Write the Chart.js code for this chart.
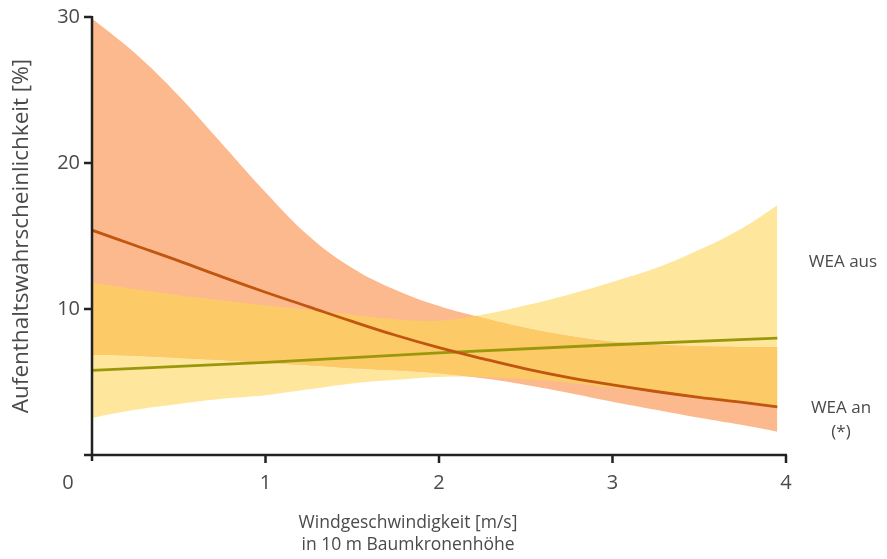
<!DOCTYPE html>
<html>
<head>
<meta charset="utf-8">
<script src="https://cdn.jsdelivr.net/npm/chart.js@4"></script>
<style>
  html, body { margin: 0; padding: 0; background: #fff; }
  #wrap { width: 887px; height: 559px; }
</style>
</head>
<body>
<div id="wrap"><canvas id="chart"></canvas></div>
<script>
// Windgeschwindigkeit [m/s] (x) for the bands
const windSpeed = [0, 0.25, 0.5, 0.75, 1, 1.25, 1.5, 1.75, 2, 2.25, 2.5, 2.75, 3, 3.25, 3.5, 3.75, 3.95];

// WEA an (*) - orange
const anUpper = [29.9, 27.5, 24.6, 21.3, 18.0, 15.0, 12.8, 11.3, 10.2, 9.4, 8.7, 8.15, 7.75, 7.55, 7.45, 7.4, 7.4];
const anMean  = [15.4, 14.35, 13.3, 12.2, 11.15, 10.15, 9.15, 8.2, 7.35, 6.6, 5.9, 5.3, 4.8, 4.35, 3.95, 3.6, 3.3];
const anLower = [6.85, 6.8, 6.65, 6.5, 6.3, 6.15, 5.95, 5.8, 5.6, 5.25, 4.8, 4.25, 3.65, 3.1, 2.55, 2.05, 1.6];

// WEA aus - yellow
const ausUpper = [11.8, 11.35, 10.95, 10.6, 10.25, 9.95, 9.6, 9.3, 9.2, 9.6, 10.25, 11.0, 11.85, 12.8, 14.05, 15.55, 17.1];
const ausLower = [2.55, 3.1, 3.5, 3.85, 4.1, 4.5, 4.9, 5.15, 5.35, 5.35, 5.2, 4.95, 4.6, 4.3, 3.95, 3.7, 3.4];
const ausMeanX = [0, 1, 2, 3, 3.95];
const ausMean  = [5.8, 6.35, 7.0, 7.55, 8.0];

const xTicks = [0, 1, 2, 3, 4];
const yTicks = [0, 10, 20, 30];

const FONT = '"Open Sans", "Noto Sans", sans-serif';
const TEXT = '#4a4a4a';
const AXIS = '#222';

function pts(xs, ys) {
    return xs.map((x, i) => ({ x: x, y: ys[i] }));
}

// trace a curve through point elements (forward or backward)
function trace(ctx, p, reverse) {
    const n = p.length;
    if (!reverse) {
        ctx.lineTo(p[0].x, p[0].y);
        for (let i = 1; i < n; i++) {
            ctx.bezierCurveTo(p[i - 1].cp2x, p[i - 1].cp2y, p[i].cp1x, p[i].cp1y, p[i].x, p[i].y);
        }
    } else {
        ctx.lineTo(p[n - 1].x, p[n - 1].y);
        for (let i = n - 1; i > 0; i--) {
            ctx.bezierCurveTo(p[i].cp1x, p[i].cp1y, p[i - 1].cp2x, p[i - 1].cp2y, p[i - 1].x, p[i - 1].y);
        }
    }
}

function bandPath(ctx, upper, lower) {
    ctx.beginPath();
    ctx.moveTo(upper[0].x, upper[0].y);
    trace(ctx, upper, false);
    trace(ctx, lower, true);
    ctx.closePath();
}

// overlap of both bands gets its own colour
const overlapPlugin = {
    id: 'overlap',
    afterDatasetDraw(chart, args) {
        if (args.index !== 2) return;
        const ctx = chart.ctx;
        const a = chart.chartArea;
        const anU = chart.getDatasetMeta(2).data;
        const anL = chart.getDatasetMeta(3).data;
        const ausU = chart.getDatasetMeta(4).data;
        const ausL = chart.getDatasetMeta(5).data;
        ctx.save();
        ctx.beginPath();
        ctx.rect(a.left, a.top, a.right - a.left, a.bottom - a.top);
        ctx.clip();
        bandPath(ctx, anU, anL);
        ctx.clip();
        bandPath(ctx, ausU, ausL);
        ctx.fillStyle = '#fdca68';
        ctx.fill();
        ctx.restore();
    }
};

// axes, ticks and all texts
const axesPlugin = {
    id: 'axesDraw',
    afterDraw(chart) {
        const ctx = chart.ctx;
        const xs = chart.scales.x, ys = chart.scales.y;
        const x0 = xs.getPixelForValue(0), x4 = xs.getPixelForValue(4);
        const y0 = ys.getPixelForValue(0), y30 = ys.getPixelForValue(30);
        ctx.save();
        ctx.strokeStyle = AXIS;
        ctx.lineWidth = 2.5;
        ctx.lineCap = 'butt';
        ctx.beginPath();
        ctx.moveTo(x0, y30 - 1);
        ctx.lineTo(x0, y0 + 6);
        ctx.moveTo(x0 - 8, y0);
        ctx.lineTo(x4 + 1, y0);
        yTicks.forEach(v => {
            const y = ys.getPixelForValue(v);
            ctx.moveTo(x0 - 8, y);
            ctx.lineTo(x0, y);
        });
        xTicks.slice(1).forEach(v => {
            const x = xs.getPixelForValue(v);
            ctx.moveTo(x, y0);
            ctx.lineTo(x, y0 + 8);
        });
        ctx.stroke();

        ctx.fillStyle = TEXT;
        ctx.font = '20px ' + FONT;
        ctx.textBaseline = 'middle';
        ctx.textAlign = 'right';
        yTicks.slice(1).forEach(v => {
            ctx.fillText(String(v), x0 - 12, ys.getPixelForValue(v));
        });
        ctx.textAlign = 'center';
        ctx.fillText('0', x0 - 24, y0 + 28);
        xTicks.slice(1).forEach(v => {
            ctx.fillText(String(v), xs.getPixelForValue(v), y0 + 28);
        });

        ctx.font = '17.5px ' + FONT;
        ctx.fillText('Windgeschwindigkeit [m/s]', 408, 523);
        ctx.fillText('in 10 m Baumkronenhöhe', 408, 545);
        ctx.font = '17px ' + FONT;
        ctx.fillText('WEA aus', 843, 262);
        ctx.fillText('WEA an', 841, 408);
        ctx.fillText('(*)', 841, 432);

        ctx.save();
        ctx.translate(22, 236);
        ctx.rotate(-Math.PI / 2);
        ctx.font = '22.5px ' + FONT;
        ctx.fillText('Aufenthaltswahrscheinlichkeit [%]', 0, 0);
        ctx.restore();
        ctx.restore();
    }
};

const bandLine = {
    borderWidth: 0,
    pointRadius: 0,
    tension: 0.4
};

new Chart(document.getElementById('chart'), {
    type: 'line',
    data: {
        datasets: [
            { label: 'WEA an', data: pts(windSpeed, anMean), borderColor: '#c0560f', borderWidth: 2.8, pointRadius: 0, tension: 0.4, fill: false },
            { label: 'WEA aus', data: pts(ausMeanX, ausMean), borderColor: '#9b970d', borderWidth: 2.8, pointRadius: 0, fill: false },
            Object.assign({ label: 'an oben', data: pts(windSpeed, anUpper), backgroundColor: '#fdb98e', fill: '+1' }, bandLine),
            Object.assign({ label: 'an unten', data: pts(windSpeed, anLower), fill: false }, bandLine),
            Object.assign({ label: 'aus oben', data: pts(windSpeed, ausUpper), backgroundColor: '#fee79c', fill: '+1' }, bandLine),
            Object.assign({ label: 'aus unten', data: pts(windSpeed, ausLower), fill: false }, bandLine)
        ]
    },
    options: {
        responsive: true,
        maintainAspectRatio: false,
        animation: false,
        layout: { padding: { left: 92, right: 101, top: 17, bottom: 104 } },
        scales: {
            x: { type: 'linear', min: 0, max: 4, display: false },
            y: { type: 'linear', min: 0, max: 30, display: false }
        },
        plugins: {
            legend: { display: false },
            tooltip: { enabled: false }
        }
    },
    plugins: [overlapPlugin, axesPlugin]
});
</script>
</body>
</html>
